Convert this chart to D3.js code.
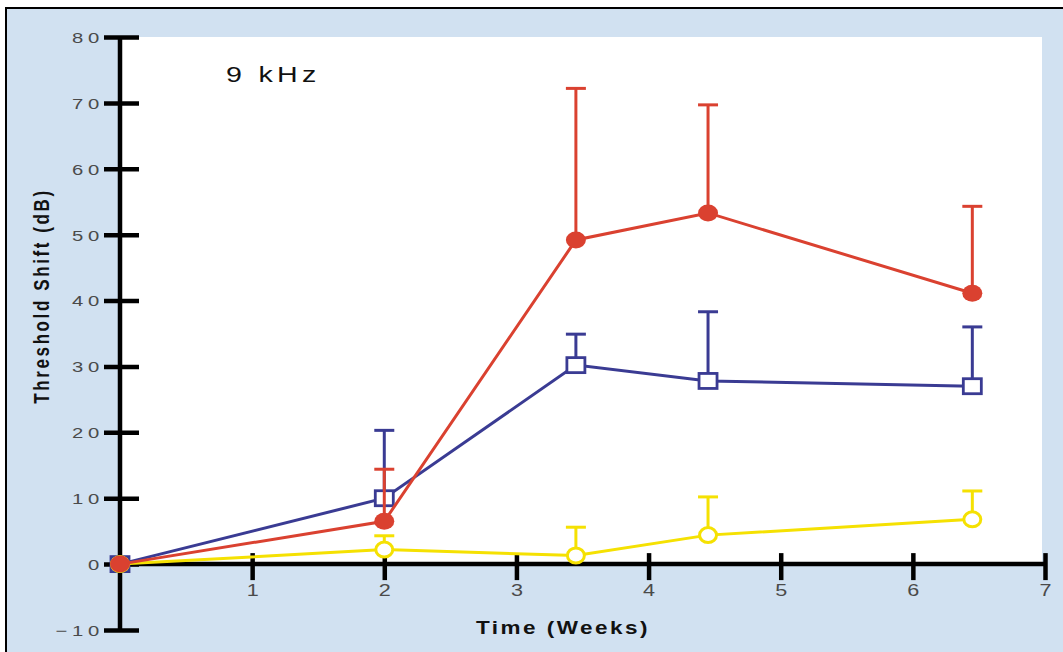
<!DOCTYPE html>
<html>
<head>
<meta charset="utf-8">
<script src="https://cdn.jsdelivr.net/npm/d3@7/dist/d3.min.js"></script>
<style>
  html, body { margin: 0; padding: 0; background: #ffffff; }
  svg { display: block; }
  text { font-family: "Liberation Sans", Arial, sans-serif; }
</style>
</head>
<body>
<svg id="chart" width="1063" height="652"></svg>
<script>
// Threshold shift at 9 kHz over time, three groups (mean with upper SD bar)
const weeks = [0, 2, 3.45, 4.45, 6.45];

const filledCircleMean = [0, 6.5, 49.2, 53.3, 41.1];
const filledCircleSD   = [0, 7.9, 23.0, 16.4, 13.2];

const openSquareMean = [0, 10.0, 30.2, 27.8, 27.0];
const openSquareSD   = [0, 10.3, 4.7, 10.5, 9.0];

const openCircleMean = [0, 2.2, 1.3, 4.4, 6.8];
const openCircleSD   = [0, 2.1, 4.3, 5.8, 4.3];

const xTicks = [1, 2, 3, 4, 5, 6, 7];
const yTicks = [-10, 0, 10, 20, 30, 40, 50, 60, 70, 80];

const svg = d3.select("#chart");
const W = 1063, H = 652;
const STRETCH = 1.35; // wide lettering used throughout the figure

const x = d3.scaleLinear().domain([0, 7]).range([120, 1045]);
const y = d3.scaleLinear().domain([-10, 80]).range([630, 37]);

// framed light-blue backdrop
svg.append("rect").attr("x", 6).attr("y", 8).attr("width", W).attr("height", H)
  .attr("fill", "#d1e1f1").attr("stroke", "#000").attr("stroke-width", 2);

// white plotting panel above the zero line
svg.append("rect")
  .attr("x", x(0)).attr("y", y(80))
  .attr("width", 1042 - x(0)).attr("height", y(0) - y(80))
  .attr("fill", "#ffffff");

// y axis
const yAxis = svg.append("g")
  .attr("transform", `translate(${x(0)},0)`)
  .call(d3.axisLeft(y).tickValues(yTicks).tickSize(16).tickPadding(6)
    .tickFormat(d => d < 0 ? "\u2212" + Math.abs(d) : d));
yAxis.select(".domain").attr("stroke", "#000").attr("stroke-width", 4.5).attr("d", `M0,${y(80)}V${y(-10)}`);
yAxis.selectAll(".tick line").attr("stroke", "#000").attr("stroke-width", 4.5).attr("x1", 19).attr("x2", -16);
yAxis.selectAll(".tick text")
  .attr("fill", "#4a4a4a").attr("font-size", 15).attr("letter-spacing", 3.5)
  .attr("x", 0).attr("dy", "0.36em")
  .attr("transform", `translate(-16,0) scale(${STRETCH},1)`);

// x axis along zero
const xAxis = svg.append("g")
  .attr("transform", `translate(0,${y(0)})`)
  .call(d3.axisBottom(x).tickValues(xTicks).tickSize(16).tickPadding(6).tickFormat(d3.format("d")));
xAxis.select(".domain").attr("stroke", "#000").attr("stroke-width", 4.5).attr("d", `M${x(0)},0H${x(7)}`);
xAxis.selectAll(".tick line").attr("stroke", "#000").attr("stroke-width", 4.5).attr("y1", -11).attr("y2", 16);
xAxis.selectAll(".tick text")
  .attr("fill", "#4a4a4a").attr("font-size", 16).attr("y", 21).attr("dy", "0.71em")
  .attr("transform", `scale(${STRETCH},1)`);

// axis titles
svg.append("text")
  .attr("transform", `translate(563,634) scale(1.25,1)`)
  .attr("text-anchor", "middle")
  .attr("font-size", 18).attr("font-weight", "bold").attr("letter-spacing", 2)
  .attr("fill", "#111")
  .text("Time (Weeks)");

svg.append("text")
  .attr("transform", "translate(49,296) rotate(-90) scale(1,1.25)")
  .attr("text-anchor", "middle")
  .attr("font-size", 17).attr("font-weight", "bold").attr("letter-spacing", 2.6)
  .attr("fill", "#111")
  .text("Threshold Shift (dB)");

// panel label
svg.append("text")
  .attr("transform", `translate(226,82) scale(1.3,1)`)
  .attr("font-size", 22).attr("letter-spacing", 3.3)
  .attr("fill", "#111")
  .text("9 kHz");

const series = [
  { mean: openSquareMean, sd: openSquareSD, color: "#3a3b93", marker: "square" },
  { mean: openCircleMean, sd: openCircleSD, color: "#f5e102", marker: "openCircle" },
  { mean: filledCircleMean, sd: filledCircleSD, color: "#da4130", marker: "filledCircle" }
];

const line = d3.line().x(d => x(d.w)).y(d => y(d.m));

series.forEach(s => {
  const pts = weeks.map((w, i) => ({ w, m: s.mean[i], sd: s.sd[i] }));
  const g = svg.append("g");

  // upper error bars with caps
  const bars = pts.filter(p => p.sd > 0);
  g.selectAll("line.err").data(bars).join("line")
    .attr("x1", d => x(d.w)).attr("x2", d => x(d.w))
    .attr("y1", d => y(d.m)).attr("y2", d => y(d.m + d.sd))
    .attr("stroke", s.color).attr("stroke-width", 3);
  g.selectAll("line.cap").data(bars).join("line")
    .attr("x1", d => x(d.w) - 10).attr("x2", d => x(d.w) + 10)
    .attr("y1", d => y(d.m + d.sd)).attr("y2", d => y(d.m + d.sd))
    .attr("stroke", s.color).attr("stroke-width", 3);

  g.append("path").datum(pts)
    .attr("d", line).attr("fill", "none")
    .attr("stroke", s.color).attr("stroke-width", 3);

  if (s.marker === "square") {
    g.selectAll("rect").data(pts).join("rect")
      .attr("x", d => x(d.w) - 9).attr("y", d => y(d.m) - 7.5)
      .attr("width", 18).attr("height", 15)
      .attr("fill", "#fff").attr("stroke", s.color).attr("stroke-width", 2.8);
  } else if (s.marker === "openCircle") {
    g.selectAll("ellipse").data(pts).join("ellipse")
      .attr("cx", d => x(d.w)).attr("cy", d => y(d.m))
      .attr("rx", 8.5).attr("ry", 7.5)
      .attr("fill", "#fff").attr("stroke", s.color).attr("stroke-width", 3);
  } else {
    g.selectAll("ellipse").data(pts).join("ellipse")
      .attr("cx", d => x(d.w)).attr("cy", d => y(d.m))
      .attr("rx", 10).attr("ry", 8.5)
      .attr("fill", s.color);
  }
});
</script>
</body>
</html>
